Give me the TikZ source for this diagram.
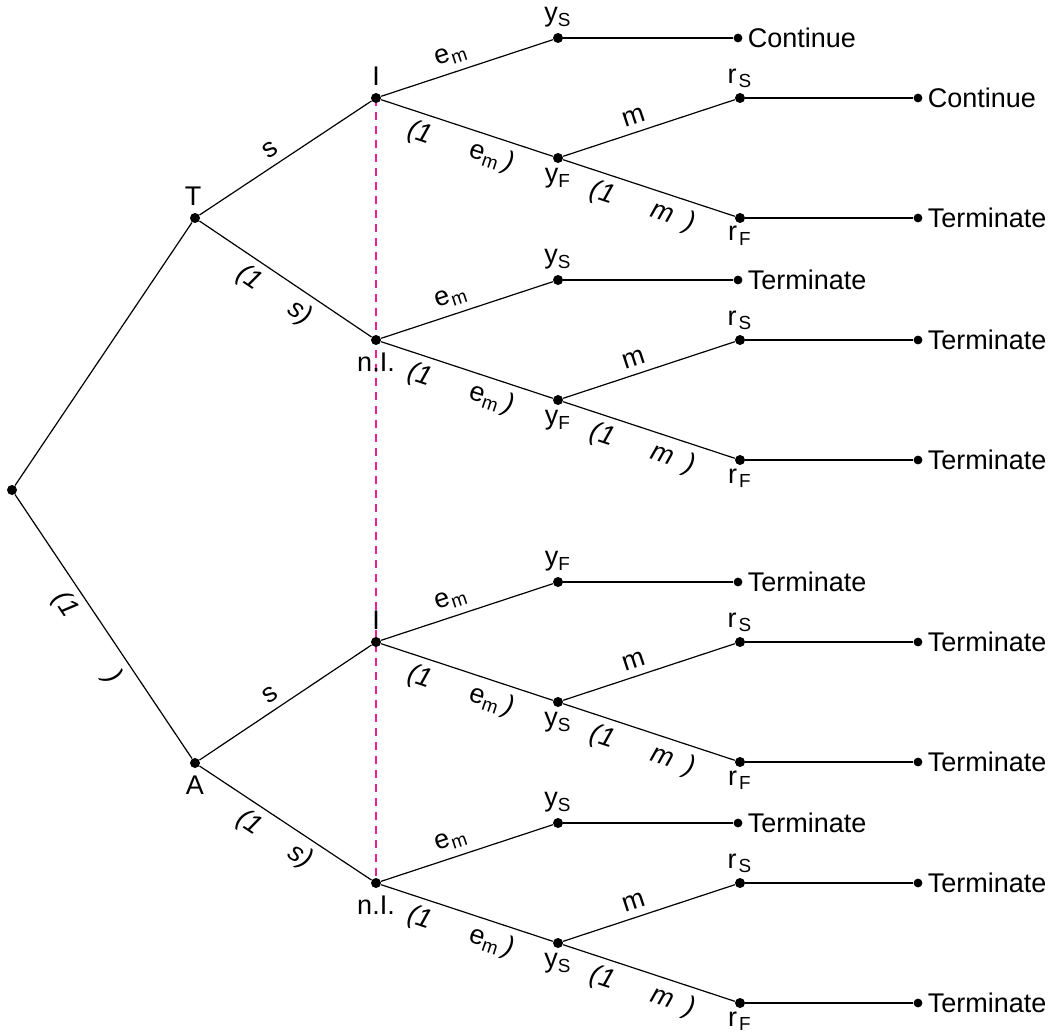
\documentclass[tikz,border=0pt]{standalone}
\usepackage{fontspec}
\setmainfont{Liberation Sans}
\definecolor{infocolor}{RGB}{240,30,150}

\begin{document}
\begin{tikzpicture}[%
    x=0.5pt, y=-0.5pt,%
    font=\fontsize{13.5}{16}\selectfont%
    ]
    % Styles
    \tikzset{dot/.style={circle, fill=black, inner sep=0pt, minimum size=5pt}}%
    \tikzset{enddot/.style={dot, minimum size=4.4pt}}%
    \tikzset{branche/.style={line width=0.6pt}}%
    \tikzset{proba/.style={sloped, inner sep=3.5pt}}%
    \tikzset{infoset/.style={infocolor, line width=0.6pt, dash pattern=on 4pt off 3pt}}%

    \useasboundingbox (0,0) rectangle (1054,1033);%

    % Colonnes
    \pgfmathsetmacro{\xT}{195}%
    \pgfmathsetmacro{\xI}{376}%
    \pgfmathsetmacro{\xY}{558}%
    \pgfmathsetmacro{\xR}{740}%
    \pgfmathsetmacro{\xE}{918}%
    \pgfmathsetmacro{\xEy}{738}%
    \pgfmathsetmacro{\h}{60}%

    % Racine et premier niveau
    \node[dot] (root) at (12,490) {};%
    \node[dot, label={[xshift=-1pt]above:T}] (T) at (\xT,218) {};%
    \node[dot, label=below:A] (A) at (\xT,763) {};%

    % Ensemble d'information
    \draw[infoset] (\xI,98) -- (\xI,883);%

    % Sous-arbres
    \foreach \n/\yy/\lab/\pos/\top/\mid/\ta/\tb/\tc in {%
        1/98/I/above/S/F/Continue/Continue/Terminate,%
        2/340/n.I./below/S/F/Terminate/Terminate/Terminate,%
        3/642/I/above/F/S/Terminate/Terminate/Terminate,%
        4/883/n.I./below/S/S/Terminate/Terminate/Terminate}{%
        \node[dot, label=\pos:\lab] (info\n) at (\xI,\yy) {};%
        \node[dot, label={[label distance=-1pt]above:y\textsubscript{\top}}] (ytop\n) at (\xY,\yy-\h) {};%
        \node[dot, label={[label distance=-1pt]below:y\textsubscript{\mid}}] (ymid\n) at (\xY,\yy+\h) {};%
        \node[dot, label={[label distance=-1pt]above:r\kern1pt\textsubscript{S}}] (rs\n) at (\xR,\yy) {};%
        \node[dot, label={[label distance=-2pt]below:r\kern1pt\textsubscript{F}}] (rf\n) at (\xR,\yy+2*\h) {};%
        \node[enddot, label={[label distance=-1pt]right:\ta}] (enda\n) at (\xEy,\yy-\h) {};%
        \node[enddot, label={[label distance=-1pt]right:\tb}] (endb\n) at (\xE,\yy) {};%
        \node[enddot, label={[label distance=-1pt]right:\tc}] (endc\n) at (\xE,\yy+2*\h) {};%
        \draw[branche] (info\n) -- (ytop\n) node[proba, above, pos=0.44] {e\textsubscript{m}};%
        \draw[branche] (info\n) -- (ymid\n) node[proba, below, pos=0.5]
            {{\itshape(1}\hspace{1.5em}e\textsubscript{m}\,{\itshape)}};%
        \draw[branche] (ymid\n) -- (rs\n) node[proba, above, pos=0.44] {m};%
        \draw[branche] (ymid\n) -- (rf\n) node[proba, below, pos=0.5]
            {\itshape(1\hspace{1.5em}m\hspace{0.5em})};%
        \draw[branche] (ytop\n) -- (enda\n);%
        \draw[branche] (rs\n) -- (endb\n);%
        \draw[branche] (rf\n) -- (endc\n);%
    }%

    % Branches de Nature et du premier joueur
    \draw[branche] (root) -- (T);%
    \draw[branche] (root) -- (A) node[proba, below, midway] {\itshape(1\hspace{2.6em})};%
    \draw[branche] (T) -- (info1) node[proba, above, pos=0.46] {s};%
    \draw[branche] (T) -- (info2) node[proba, below, midway] {\itshape(1\hspace{1.4em}s)};%
    \draw[branche] (A) -- (info3) node[proba, above, pos=0.46] {s};%
    \draw[branche] (A) -- (info4) node[proba, below, midway] {\itshape(1\hspace{1.4em}s)};%
\end{tikzpicture}
\end{document}
